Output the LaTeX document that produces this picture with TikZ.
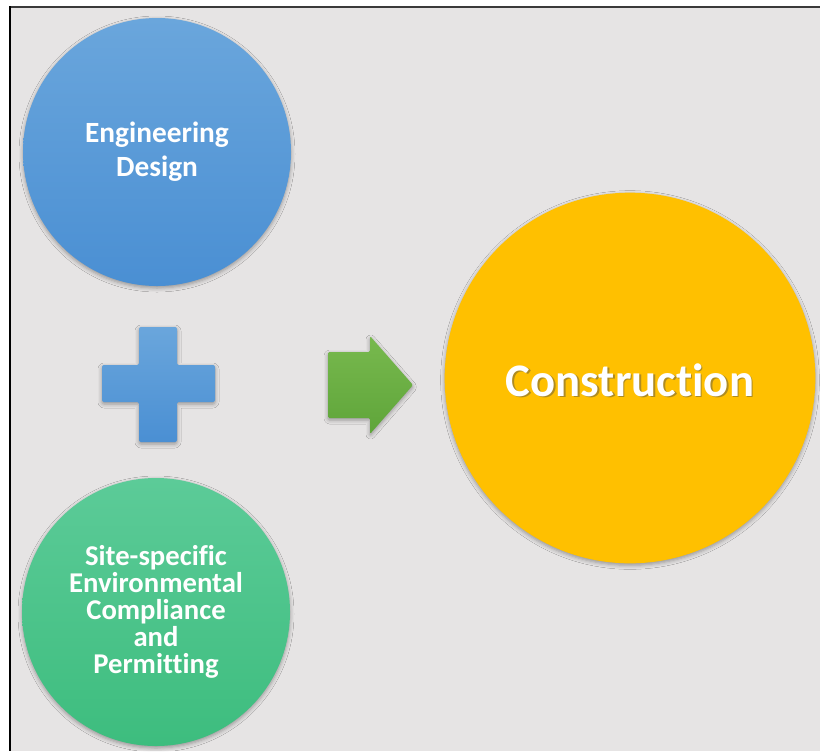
\documentclass[tikz,border=0pt]{standalone}
\usepackage{fontspec}
\setmainfont{Carlito}[Ligatures={NoCommon}]
\usetikzlibrary{shadows.blur}
\definecolor{bg}{HTML}{E6E4E4}
\definecolor{blueTop}{HTML}{6AA6DC}
\definecolor{blueBot}{HTML}{4A8FD3}
\definecolor{greenTop}{HTML}{5CCB98}
\definecolor{greenBot}{HTML}{3DBD7E}
\definecolor{gold}{HTML}{FFC000}
\definecolor{arrTop}{HTML}{78B94E}
\definecolor{arrBot}{HTML}{5FA53A}
\definecolor{frameTop}{HTML}{3A3A3A}
\tikzset{
  softshadow/.style={blur shadow={shadow xshift=0pt, shadow yshift=-1.5pt, shadow blur radius=3pt, shadow opacity=35}},
  bigcircle/.style={circle, inner sep=0pt, align=center, softshadow},
  smalltext/.style={text=white, font=\bfseries\fontsize{22}{25.5}\selectfont},
  greentext/.style={text=white, font=\bfseries\fontsize{21.5}{20.2}\selectfont},
  bigtext/.style={font=\bfseries\fontsize{35}{40}\selectfont},
}
\begin{document}
\begin{tikzpicture}[x=0.75pt,y=-0.75pt]
\useasboundingbox (0,0) rectangle (820,751);
\fill[white] (0,0) rectangle (820,751);
\fill[bg] (10,7) rectangle (820,751);
\draw[frameTop, line width=1.5pt] (9,7) -- (820,7);
\draw[black, line width=2.2pt] (10,6) -- (10,751);

% circles
\node[bigcircle, minimum size=201pt, top color=blueTop, bottom color=blueBot, smalltext] (eng) at (157,152) {Engineering\\Design};
\node[bigcircle, minimum size=201pt, top color=greenTop, bottom color=greenBot, greentext] (env) at (156,612) {Site-specific\\Environmental\\Compliance\\and\\Permitting};
\node[bigcircle, minimum size=278pt, fill=gold] (con) at (630,378) {};
\node[bigtext, text=black!70, opacity=0.45] (conshadow) at (631.5,381.5) {Construction};
\node[bigtext, text=white] (context) at (630,380) {Construction};

% plus sign
\shade[top color=blueTop, bottom color=blueBot, softshadow, rounded corners=1.5pt]
  (139,327) -- (177,327) -- (177,365) -- (215,365) -- (215,402) -- (177,402)
  -- (177,442) -- (139,442) -- (139,402) -- (102,402) -- (102,365) -- (139,365) -- cycle;

% arrow
\shade[top color=arrTop, bottom color=arrBot, softshadow, rounded corners=1pt]
  (328,352) -- (370,352) -- (370,336) -- (413,385) -- (370,434) -- (370,418) -- (328,418) -- cycle;
\end{tikzpicture}
\end{document}
